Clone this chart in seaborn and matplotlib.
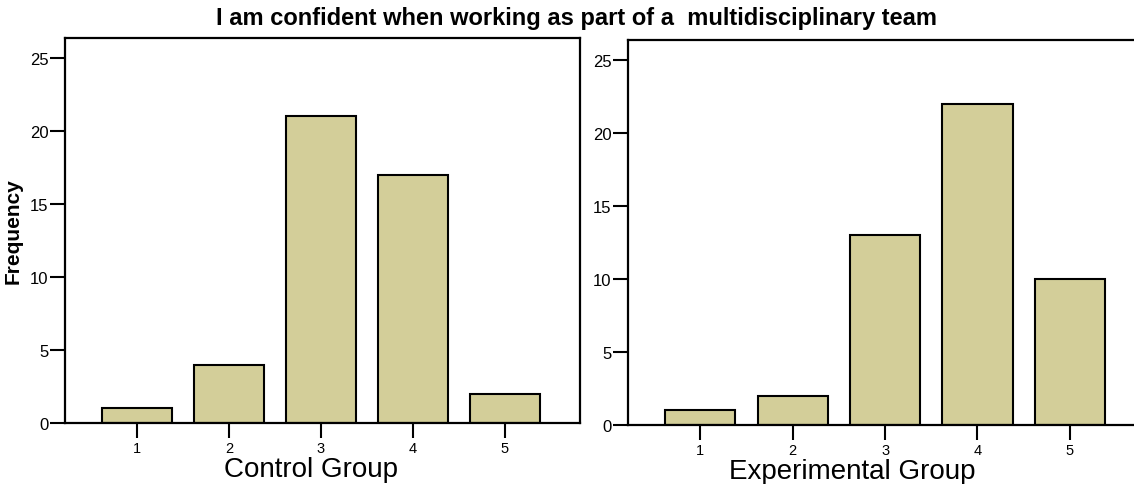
import matplotlib
matplotlib.use("Agg")
import matplotlib.pyplot as plt
import seaborn as sns
import pandas as pd

scores = ["1", "2", "3", "4", "5"]
control_freq = [1, 4, 21, 17, 2]
experimental_freq = [1, 2, 13, 22, 10]
yticks = [0, 5, 10, 15, 20, 25]
title = "I am confident when working as part of a  multidisciplinary team"
panel_labels = ["Control Group", "Experimental Group"]

sns.set_theme(style="white")
plt.rcParams["font.family"] = ["Liberation Sans", "DejaVu Sans"]

fig = plt.figure(figsize=(11.34, 4.85), dpi=100)
ax1 = fig.add_axes([0.0573, 0.1258, 0.4541, 0.7938])
ax2 = fig.add_axes([0.5538, 0.1216, 0.456, 0.794])

bar_color = "#d3ce99"
label_x = [0.478, 0.433]
for ax, freq, lab, lx in zip([ax1, ax2], [control_freq, experimental_freq], panel_labels, label_x):
    df = pd.DataFrame({"score": scores, "freq": freq})
    sns.barplot(data=df, x="score", y="freq", color=bar_color, saturation=1,
                edgecolor="black", linewidth=1.5, width=0.76, ax=ax)
    ax.set_xlim(-0.783, 4.815)
    ax.set_ylim(0, 26.35)
    ax.set_yticks(yticks)
    ax.set_yticklabels([str(t) for t in yticks])
    for s in ax.spines.values():
        s.set_visible(True)
        s.set_color("black")
        s.set_linewidth(1.6)
    ax.tick_params(axis="both", direction="out", length=11, width=1.5,
                   color="black", labelcolor="black", pad=3,
                   left=True, bottom=True)
    ax.tick_params(axis="y", labelsize=12, pad=1)
    ax.tick_params(axis="x", labelsize=10.5, pad=2)
    ax.set_xlabel(lab, fontsize=20, color="black", labelpad=1)
    ax.xaxis.label.set_x(lx)
    ax.set_ylabel("")

ax1.set_ylabel("Frequency", fontsize=15, fontweight="bold", color="black", labelpad=5)
fig.text(0.508, 0.962, title, ha="center", va="center", fontsize=17,
         fontweight="bold", color="black")

fig.savefig("out.png", dpi=100)
